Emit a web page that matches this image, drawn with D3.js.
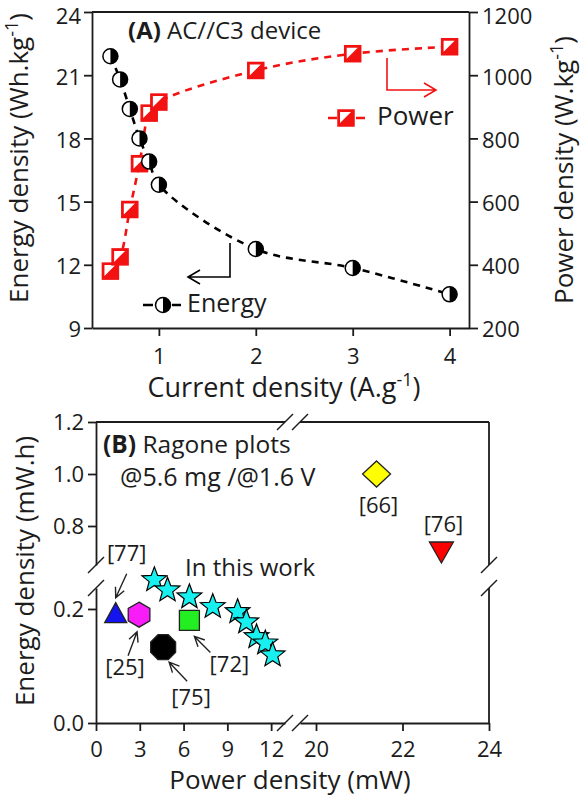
<!DOCTYPE html>
<html>
<head>
<meta charset="utf-8">
<script src="https://cdn.jsdelivr.net/npm/d3@7"></script>
<style>
  body { margin: 0; background: #fff; }
  text { font-family: "Open Sans", sans-serif; fill: #1c1c1c; }
</style>
</head>
<body>
<script>
// ---- data ----
// (A) AC//C3 device
var currentDensity = [0.5, 0.6, 0.7, 0.8, 0.9, 1, 2, 3, 4];
var energyDensity = [21.9, 20.8, 19.4, 18.0, 16.9, 15.8, 12.75, 11.85, 10.6];
var powerDensity = [380, 425, 575, 720, 880, 915, 1015, 1068, 1090];
var currentTicks = [1, 2, 3, 4];
var energyTicks = [9, 12, 15, 18, 21, 24];
var powerTicks = [200, 400, 600, 800, 1000, 1200];

// (B) Ragone plots
var workPower = [4.0, 4.9, 6.4, 8.0, 9.7, 10.3, 11.0, 11.6, 12.1];
var workEnergy = [0.251, 0.233, 0.221, 0.204, 0.195, 0.177, 0.151, 0.14, 0.119];
var refLabels = ["[77]", "[25]", "[75]", "[72]", "[66]", "[76]"];
var refPower = [1.35, 2.95, 4.6, 6.4, 21.4, 22.9];
var refEnergy = [0.19, 0.19, 0.133, 0.18, 1.0, 0.70];
var powerTicksLow = [0, 3, 6, 9, 12];
var powerTicksHigh = [20, 22, 24];
var energyTicksLow = [0.0, 0.2];
var energyTicksHigh = [0.8, 1.0, 1.2];

var svg = d3.select("body").append("svg")
  .attr("width", 583)
  .attr("height", 799);

var RED = "#f21212";
var INK = "#1c1c1c";

function styleAxis(g, size) {
  g.attr("font-family", null).attr("font-size", size);
  g.select(".domain").attr("stroke", INK).attr("stroke-width", 1.8);
  g.selectAll(".tick line").attr("stroke", INK).attr("stroke-width", 1.8);
  g.selectAll(".tick text").attr("fill", INK);
}

// ================= panel A =================
var x = d3.scaleLinear().domain([0.31, 4.2]).range([92, 469]);
var yE = d3.scaleLinear().domain([9, 24]).range([328, 12]);
var yP = d3.scaleLinear().domain([200, 1200]).range([328, 12]);

var gA = svg.append("g");

gA.append("g")
  .attr("transform", "translate(0,328)")
  .call(d3.axisBottom(x).tickValues(currentTicks).tickSize(8).tickSizeOuter(0).tickPadding(12).tickFormat(d3.format("d")))
  .call(styleAxis, 22);

gA.append("g")
  .attr("transform", "translate(92,0)")
  .call(d3.axisLeft(yE).tickValues(energyTicks).tickSize(8).tickSizeOuter(0).tickPadding(3))
  .call(styleAxis, 22)
  .selectAll(".tick text").attr("dy", function(d) { return d === 24 ? "0.5em" : "0.4em"; });

gA.append("g")
  .attr("transform", "translate(469,0)")
  .call(d3.axisRight(yP).tickValues(powerTicks).tickSize(9).tickSizeOuter(0).tickPadding(4).tickFormat(d3.format("d")))
  .call(styleAxis, 22)
  .selectAll(".tick text").attr("dy", function(d) { return d === 1200 ? "0.5em" : "0.4em"; });

// top border
gA.append("line")
  .attr("x1", x.range()[0]).attr("x2", x.range()[1])
  .attr("y1", yE.range()[1]).attr("y2", yE.range()[1])
  .attr("stroke", INK).attr("stroke-width", 1.8);

// dashed curves
var pLine = d3.line()
  .x(function(d, i) { return x(currentDensity[i]); })
  .y(function(d) { return yP(d); })
  .curve(d3.curveCatmullRom);
var eLine = d3.line()
  .x(function(d, i) { return x(currentDensity[i]); })
  .y(function(d) { return yE(d); })
  .curve(d3.curveCatmullRom);

gA.append("path").datum(powerDensity)
  .attr("d", pLine).attr("fill", "none")
  .attr("stroke", RED).attr("stroke-width", 2.6).attr("stroke-dasharray", "7,6");
gA.append("path").datum(energyDensity)
  .attr("d", eLine).attr("fill", "none")
  .attr("stroke", "#000").attr("stroke-width", 2.6).attr("stroke-dasharray", "7,6");

function squareMark(sel) {
  sel.append("rect").attr("x", -8).attr("y", -8).attr("width", 16).attr("height", 16)
    .attr("fill", RED).attr("stroke", RED).attr("stroke-width", 1.5);
  sel.append("path").attr("d", "M-6,-6L5,-6L-6,5Z").attr("fill", "#fff");
}
function halfCircleMark(sel) {
  sel.append("circle").attr("r", 7.5).attr("fill", "#fff").attr("stroke", "#000").attr("stroke-width", 1.5);
  sel.append("path").attr("d", "M0,-7.5A7.5,7.5 0 0 1 0,7.5Z").attr("fill", "#000");
}

gA.append("g").selectAll("g")
  .data(powerDensity).enter().append("g")
  .attr("transform", function(d, i) { return "translate(" + x(currentDensity[i]) + "," + yP(d) + ")"; })
  .call(squareMark);

gA.append("g").selectAll("g")
  .data(energyDensity).enter().append("g")
  .attr("transform", function(d, i) { return "translate(" + x(currentDensity[i]) + "," + yE(d) + ")"; })
  .call(halfCircleMark);

// title
var tA = gA.append("text").attr("x", 128).attr("y", 39).attr("font-size", 24);
tA.append("tspan").attr("font-weight", "bold").text("(A)");
tA.append("tspan").text(" AC//C3 device");

// power legend + arrow
gA.append("path").attr("d", "M387,58V90H436M424,83L436,90L424,97")
  .attr("fill", "none").attr("stroke", RED).attr("stroke-width", 1.6);
gA.append("path").attr("d", "M328,118H337M356,118H365")
  .attr("stroke", RED).attr("stroke-width", 2.6);
gA.append("g").attr("transform", "translate(346,118)").call(squareMark);
gA.append("text").attr("x", 377).attr("y", 125).attr("font-size", 26).text("Power");

// energy legend + arrow
gA.append("path").attr("d", "M230,243V277H188M200,270L188,277L200,284")
  .attr("fill", "none").attr("stroke", "#000").attr("stroke-width", 1.6);
gA.append("path").attr("d", "M143,305H153M172,305H181")
  .attr("stroke", "#000").attr("stroke-width", 2.6);
gA.append("g").attr("transform", "translate(163,305)").call(halfCircleMark);
gA.append("text").attr("x", 187).attr("y", 312).attr("font-size", 25).text("Energy");

// axis titles
var xtA = gA.append("text").attr("x", 284).attr("y", 397).attr("font-size", 27).attr("text-anchor", "middle");
xtA.append("tspan").text("Current density (A.g");
xtA.append("tspan").attr("font-size", 18).attr("dy", -11).text("-1");
xtA.append("tspan").attr("dy", 11).text(")");

var ytA = gA.append("text").attr("transform", "translate(28,158) rotate(-90)")
  .attr("font-size", 26).attr("text-anchor", "middle");
ytA.append("tspan").text("Energy density (Wh.kg");
ytA.append("tspan").attr("font-size", 18).attr("dy", -10).text("-1");
ytA.append("tspan").attr("dy", 10).text(")");

var ytA2 = gA.append("text").attr("transform", "translate(573,170) rotate(-90)")
  .attr("font-size", 26).attr("text-anchor", "middle");
ytA2.append("tspan").text("Power density (W.kg");
ytA2.append("tspan").attr("font-size", 18).attr("dy", -10).text("-1");
ytA2.append("tspan").attr("dy", 10).text(")");

// ================= panel B =================
var xLow = d3.scaleLinear().domain([0, 12.95]).range([96, 285]);
var xHigh = d3.scaleLinear().domain([19.63, 24]).range([300, 489]);
var yLow = d3.scaleLinear().domain([0, 0.2368]).range([723, 588]);
var yHigh = d3.scaleLinear().domain([0.65, 1.2]).range([565, 422]);

var gB = svg.append("g");

gB.append("g").attr("transform", "translate(0,723)")
  .call(d3.axisBottom(xLow).tickValues(powerTicksLow).tickSize(8).tickSizeOuter(0).tickPadding(10).tickFormat(d3.format("d")))
  .call(styleAxis, 22);
gB.append("g").attr("transform", "translate(0,723)")
  .call(d3.axisBottom(xHigh).tickValues(powerTicksHigh).tickSize(8).tickSizeOuter(0).tickPadding(10).tickFormat(d3.format("d")))
  .call(styleAxis, 22);
gB.append("g").attr("transform", "translate(96,0)")
  .call(d3.axisLeft(yLow).tickValues(energyTicksLow).tickSize(8).tickSizeOuter(0).tickPadding(4).tickFormat(d3.format(".1f")))
  .call(styleAxis, 22);
gB.append("g").attr("transform", "translate(96,0)")
  .call(d3.axisLeft(yHigh).tickValues(energyTicksHigh).tickSize(8).tickSizeOuter(0).tickPadding(4).tickFormat(d3.format(".1f")))
  .call(styleAxis, 22);

// box: top and right edges, with breaks
var boxLines = [
  [xLow.range()[0], 422, xLow.range()[1], 422],
  [xHigh.range()[0], 422, xHigh.range()[1], 422],
  [489, yHigh.range()[1], 489, yHigh.range()[0]],
  [489, yLow.range()[1], 489, yLow.range()[0]]
];
gB.selectAll(".box").data(boxLines).enter().append("line")
  .attr("x1", function(d) { return d[0]; }).attr("y1", function(d) { return d[1]; })
  .attr("x2", function(d) { return d[2]; }).attr("y2", function(d) { return d[3]; })
  .attr("stroke", INK).attr("stroke-width", 1.8);

// break marks
var breaks = [
  [96, yHigh.range()[0]], [96, yLow.range()[1]],
  [489, yHigh.range()[0]], [489, yLow.range()[1]],
  [xLow.range()[1], 422], [xHigh.range()[0], 422],
  [xLow.range()[1], 723], [xHigh.range()[0], 723]
];
gB.selectAll(".brk").data(breaks).enter().append("line")
  .attr("x1", function(d) { return d[0] - 8; }).attr("y1", function(d) { return d[1] + 8; })
  .attr("x2", function(d) { return d[0] + 8; }).attr("y2", function(d) { return d[1] - 8; })
  .attr("stroke", INK).attr("stroke-width", 1.5);

function bx(v) { return v > 16 ? xHigh(v) : xLow(v); }
function by(v) { return v > 0.45 ? yHigh(v) : yLow(v); }

function polyPath(n, r, rot) {
  var p = [];
  for (var k = 0; k < n; k++) {
    var a = rot + k * 2 * Math.PI / n;
    p.push([r * Math.cos(a), r * Math.sin(a)]);
  }
  return "M" + p.join("L") + "Z";
}
function starPath(ro, ri) {
  var p = [];
  for (var k = 0; k < 10; k++) {
    var r = k % 2 ? ri : ro, a = -Math.PI / 2 + k * Math.PI / 5;
    p.push([r * Math.cos(a), r * Math.sin(a)]);
  }
  return "M" + p.join("L") + "Z";
}

// marker shapes/colours and label/arrow placement per reference
var refStyle = {
  "[77]": { d: "M0,-12L11,8L-11,8Z", fill: "#1414ee", lab: [11, -54], arr: [[11, -41], [0, -17]] },
  "[25]": { d: polyPath(6, 12.5, -Math.PI / 2), fill: "#f81cf8", lab: [-14, 60], arr: [[-11, 41], [-2, 17]] },
  "[75]": { d: polyPath(8, 13.5, Math.PI / 8), fill: "#000", lab: [28, 58], arr: [[24, 34], [6, 15]] },
  "[72]": { d: "M-10,-10H10V10H-10Z", fill: "#22ee22", lab: [40, 52], arr: [[21, 32], [5, 16]] },
  "[66]": { d: "M0,-13L14,0L0,13L-14,0Z", fill: "#ffff00", lab: [2, 39], arr: null },
  "[76]": { d: "M-12,-10L12,-10L0,11Z", fill: "#ff0000", lab: [2, -20], arr: null }
};

// stars (this work)
gB.append("g").selectAll("path")
  .data(workPower).enter().append("path")
  .attr("d", starPath(13, 5.5))
  .attr("transform", function(d, i) { return "translate(" + bx(d) + "," + by(workEnergy[i]) + ")"; })
  .attr("fill", "#18f0f0").attr("stroke", "#000").attr("stroke-width", 1.2);

// reference markers
refLabels.forEach(function(lab, i) {
  var s = refStyle[lab];
  var px = bx(refPower[i]), py = by(refEnergy[i]);
  gB.append("path").attr("d", s.d)
    .attr("transform", "translate(" + px + "," + py + ")")
    .attr("fill", s.fill).attr("stroke", "#222").attr("stroke-width", 1.3);
  gB.append("text").attr("x", px + s.lab[0]).attr("y", py + s.lab[1])
    .attr("font-size", 22).attr("text-anchor", "middle").text(lab);
  if (s.arr) {
    var a0 = s.arr[0], a1 = s.arr[1];
    var ang = Math.atan2(a1[1] - a0[1], a1[0] - a0[0]);
    var hx = px + a1[0], hy = py + a1[1], L = 11, w = 0.45;
    gB.append("path")
      .attr("d", "M" + (px + a0[0]) + "," + (py + a0[1]) + "L" + hx + "," + hy +
        "M" + (hx - L * Math.cos(ang - w)) + "," + (hy - L * Math.sin(ang - w)) +
        "L" + hx + "," + hy +
        "L" + (hx - L * Math.cos(ang + w)) + "," + (hy - L * Math.sin(ang + w)))
      .attr("fill", "none").attr("stroke", "#222").attr("stroke-width", 1.4);
  }
});

// texts
var tB = gB.append("text").attr("x", 103).attr("y", 453).attr("font-size", 24.5);
tB.append("tspan").attr("font-weight", "bold").text("(B)");
tB.append("tspan").text(" Ragone plots");
gB.append("text").attr("x", 120).attr("y", 486).attr("font-size", 25).text("@5.6 mg /@1.6 V");
gB.append("text").attr("x", 185).attr("y", 576).attr("font-size", 24).text("In this work");

gB.append("text").attr("x", 290).attr("y", 789).attr("font-size", 26)
  .attr("text-anchor", "middle").text("Power density (mW)");
gB.append("text").attr("transform", "translate(34,571) rotate(-90)")
  .attr("font-size", 26).attr("text-anchor", "middle").text("Energy density (mW.h)");
</script>
</body>
</html>
